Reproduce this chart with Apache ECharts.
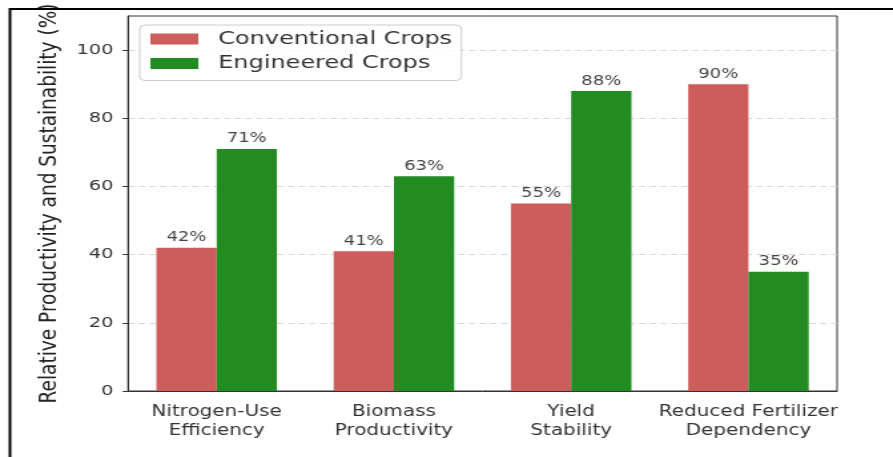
<!DOCTYPE html>
<html><head><meta charset="utf-8">
<script src="https://cdn.jsdelivr.net/npm/echarts@6/dist/echarts.min.js"></script>
<style>
html,body{margin:0;padding:0;background:#fff;overflow:hidden;}
#wrap{width:893px;height:457px;overflow:hidden;position:relative;}
#chart{width:671px;height:457px;transform:scaleX(1.3308);transform-origin:0 0;}
</style></head><body>
<div id="wrap"><div id="chart"></div></div>
<script>
const categories = ['Nitrogen-Use\nEfficiency', 'Biomass\nProductivity', 'Yield\nStability', 'Reduced Fertilizer\nDependency'];
const seriesNames = ['Conventional Crops', 'Engineered Crops'];
const conventional = [42, 41, 55, 90];
const engineered = [71, 63, 88, 35];
const yTicks = [0, 20, 40, 60, 80, 100];
const yName = 'Relative Productivity and Sustainability (%)';

const FONT = 'DejaVu Sans';
const chart = echarts.init(document.getElementById('chart'), null, {renderer: 'canvas'});

const labelCfg = {
  show: true, position: 'top', distance: 3,
  formatter: p => p.value + '%',
  fontFamily: FONT, fontSize: 13.5, color: '#444'
};

chart.setOption({
  animation: false,
  backgroundColor: '#fff',
  graphic: [{
    type: 'rect', silent: true, z: 100,
    shape: {x: 7.5, y: 9, width: 2000, height: 2000},
    style: {fill: 'none', stroke: '#000', lineWidth: 2}
  }],
  grid: {left: 96.2, right: 42, top: 16, bottom: 66, outerBoundsMode: 'none', containLabel: false,
         show: true, borderColor: '#333', borderWidth: 1, backgroundColor: 'transparent'},
  legend: {
    orient: 'vertical', left: 105, top: 25,
    data: seriesNames,
    icon: 'rect', itemWidth: 36, itemHeight: 11, itemGap: 6.5,
    padding: [5, 7, 8, 8],
    borderColor: '#ccc', borderWidth: 1, borderRadius: 4,
    backgroundColor: 'rgba(255,255,255,0.8)',
    textStyle: {fontFamily: FONT, fontSize: 18, color: '#333', padding: [0, 0, 0, 10]}
  },
  xAxis: {
    type: 'category', data: categories,
    axisLine: {lineStyle: {color: '#333', width: 1}},
    axisTick: {alignWithLabel: true, length: 5, lineStyle: {color: '#333'}},
    axisLabel: {fontFamily: FONT, fontSize: 15, color: '#333', lineHeight: 19, margin: 12, interval: 0}
  },
  yAxis: {
    type: 'value', min: 0, max: 110, interval: 20,
    name: yName, nameLocation: 'middle', nameGap: 49,
    nameTextStyle: {fontFamily: FONT, fontSize: 18.5, color: '#222'},
    axisLine: {show: true, lineStyle: {color: '#333', width: 1}},
    axisTick: {show: true, length: 4, customValues: yTicks, lineStyle: {color: '#333'}},
    axisLabel: {fontFamily: FONT, fontSize: 14.5, color: '#333', margin: 11, customValues: yTicks},
    splitLine: {show: true, lineStyle: {color: '#d9d9d9', type: [5, 3], width: 1}}
  },
  series: [
    {type: 'bar', name: seriesNames[0], data: conventional, barWidth: '34%', barGap: '0%',
     itemStyle: {color: '#CD5C5C'}, label: labelCfg},
    {type: 'bar', name: seriesNames[1], data: engineered, barWidth: '34%', barGap: '0%',
     itemStyle: {color: '#228B22'}, label: labelCfg}
  ]
});
</script>
</body></html>
